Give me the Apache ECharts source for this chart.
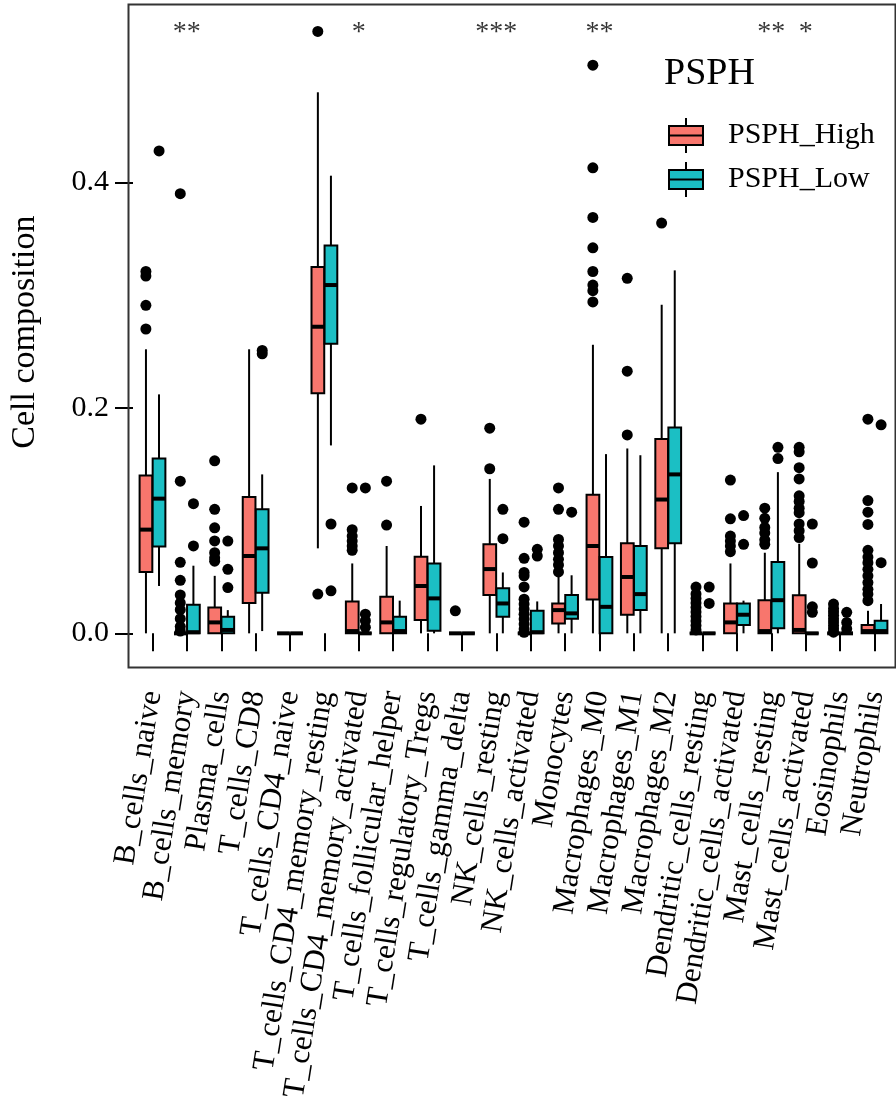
<!DOCTYPE html>
<html><head><meta charset="utf-8">
<script src="https://cdn.jsdelivr.net/npm/echarts@6/dist/echarts.min.js"></script>
<style>html,body{margin:0;padding:0;background:#fff}#c{width:896px;height:1103px}</style>
</head><body><div id="c"></div>
<script>
const categories = ['B_cells_naive','B_cells_memory','Plasma_cells','T_cells_CD8','T_cells_CD4_naive','T_cells_CD4_memory_resting','T_cells_CD4_memory_activated','T_cells_follicular_helper','T_cells_regulatory_Tregs','T_cells_gamma_delta','NK_cells_resting','NK_cells_activated','Monocytes','Macrophages_M0','Macrophages_M1','Macrophages_M2','Dendritic_cells_resting','Dendritic_cells_activated','Mast_cells_resting','Mast_cells_activated','Eosinophils','Neutrophils'];

// [lower whisker, Q1, median, Q3, upper whisker]
const highStats = [
  [0, 0.0545, 0.092, 0.140, 0.252],
  [0, 0, 0, 0, 0],
  [0, 0, 0.0097, 0.023, 0.051],
  [0, 0.027, 0.0686, 0.121, 0.252],
  [0, 0, 0, 0, 0],
  [0.0754, 0.213, 0.272, 0.325, 0.480],
  [0, 0, 0.002, 0.0283, 0.062],
  [0, 0, 0.0097, 0.0324, 0.0775],
  [0, 0.0118, 0.042, 0.068, 0.113],
  [0, 0, 0, 0, 0],
  [0, 0.034, 0.057, 0.079, 0.137],
  [0, 0, 0, 0, 0],
  [0, 0.0088, 0.0206, 0.0265, 0.052],
  [0, 0.030, 0.0775, 0.123, 0.256],
  [0, 0.0165, 0.050, 0.080, 0.164],
  [0, 0.0754, 0.1187, 0.1725, 0.2915],
  [0, 0, 0, 0, 0],
  [0, 0, 0.0097, 0.0265, 0.062],
  [0, 0, 0.002, 0.0294, 0.0715],
  [0, 0, 0.003, 0.0338, 0.0795],
  [0, 0, 0, 0, 0],
  [0, 0, 0.002, 0.0074, 0.020]
];
const lowStats = [
  [0.042, 0.077, 0.1195, 0.155, 0.212],
  [0, 0, 0.001, 0.0253, 0.060],
  [0, 0, 0.003, 0.0147, 0.0206],
  [0.002, 0.036, 0.0754, 0.110, 0.141],
  [0, 0, 0, 0, 0],
  [0.1667, 0.257, 0.309, 0.344, 0.406],
  [0, 0, 0, 0, 0],
  [0, 0, 0.002, 0.0147, 0.029],
  [0, 0.0024, 0.031, 0.062, 0.149],
  [0, 0, 0, 0, 0],
  [0, 0.0147, 0.0265, 0.040, 0.054],
  [0, 0, 0.001, 0.020, 0.0283],
  [0, 0.013, 0.0177, 0.034, 0.0515],
  [0, 0, 0.0235, 0.0677, 0.159],
  [0, 0.0206, 0.0348, 0.0775, 0.158],
  [0, 0.080, 0.141, 0.1826, 0.322],
  [0, 0, 0, 0, 0],
  [0, 0.0074, 0.0165, 0.0265, 0.029],
  [0, 0.0044, 0.0294, 0.0633, 0.143],
  [0, 0, 0, 0, 0],
  [0, 0, 0, 0, 0],
  [0, 0, 0.002, 0.0112, 0.026]
];
const highOutliers = [
  [0.321, 0.317, 0.291, 0.270],
  [0.390, 0.135, 0.063, 0.047, 0.034, 0.027, 0.021, 0.013, 0.006, 0.002],
  [0.153, 0.110, 0.0936, 0.082, 0.0716, 0.067, 0.064],
  [],
  [],
  [0.534, 0.0348],
  [0.129, 0.092, 0.0863, 0.0819, 0.0775, 0.0736],
  [0.135, 0.096],
  [0.190],
  [0.020],
  [0.182, 0.146],
  [0.0986, 0.0665, 0.054, 0.051, 0.0412, 0.0303, 0.026, 0.0215, 0.017, 0.0127, 0.0082, 0.0038, 0.0009],
  [0.129, 0.110, 0.0833, 0.0775, 0.0716, 0.0657, 0.0607, 0.0545],
  [0.504, 0.413, 0.369, 0.342, 0.321, 0.309, 0.304, 0.294],
  [0.315, 0.2326, 0.176],
  [0.364],
  [0.041, 0.035, 0.031, 0.027, 0.023, 0.019, 0.015, 0.011, 0.007, 0.003],
  [0.136, 0.1016, 0.0863, 0.0819, 0.0775, 0.0724],
  [0.111, 0.102, 0.094, 0.089, 0.083, 0.079],
  [0.165, 0.161, 0.147, 0.137, 0.122, 0.117, 0.111, 0.107, 0.097, 0.091, 0.085],
  [0.026, 0.022, 0.019, 0.016, 0.013, 0.010, 0.007, 0.004, 0.001],
  [0.190, 0.1178, 0.1075, 0.0966, 0.0736, 0.0677, 0.0627, 0.0568, 0.051, 0.045, 0.039, 0.0348, 0.029]
];
const lowOutliers = [
  [0.428],
  [0.115, 0.0775],
  [0.0819, 0.0568, 0.0406],
  [0.251, 0.248],
  [],
  [0.097, 0.0377],
  [0.129, 0.017, 0.0112, 0.0053],
  [],
  [],
  [],
  [0.110, 0.084],
  [0.0745, 0.0686],
  [0.1075],
  [],
  [],
  [],
  [0.041, 0.0265],
  [0.1045, 0.079],
  [0.165, 0.155],
  [0.097, 0.0624, 0.0235, 0.0186],
  [0.0186, 0.0097, 0.004],
  [0.185, 0.0627]
];
const sigCategories = ['B_cells_memory','T_cells_CD4_memory_activated','NK_cells_resting','Macrophages_M0','Mast_cells_resting','Mast_cells_activated'];
const sigLabels = ['**','*','***','**','**','*'];
const sigLevel = 0.533;
const yTicks = [0, 0.2, 0.4];

const FONT = "Liberation Serif";
const HIGH_COLOR = '#F8766D';
const LOW_COLOR = '#1BBFC4';
const DODGE = 0.19;   // fraction of band
const HALF_W = 0.185; // fraction of band

const GRID_LEFT = 128.3, GRID_RIGHT = 4.3, GRID_TOP = 2, GRID_BOTTOM = 438;

function boxRender(dir, color) {
  return function (params, api) {
    const i = api.value(0);
    const band = api.size([1, 0])[0];
    const cx = api.coord([i, 0])[0] + dir * DODGE * band;
    const hw = HALF_W * band;
    const yLo = api.coord([i, api.value(1)])[1];
    const yQ1 = api.coord([i, api.value(2)])[1];
    const yMed = api.coord([i, api.value(3)])[1];
    const yQ3 = api.coord([i, api.value(4)])[1];
    const yHi = api.coord([i, api.value(5)])[1];
    return {
      type: 'group',
      children: [
        {type: 'line', shape: {x1: cx, y1: yHi, x2: cx, y2: yQ3}, style: {stroke: '#000', lineWidth: 2}},
        {type: 'line', shape: {x1: cx, y1: yQ1, x2: cx, y2: yLo}, style: {stroke: '#000', lineWidth: 2}},
        {type: 'rect', shape: {x: cx - hw, y: yQ3, width: 2 * hw, height: yQ1 - yQ3},
          style: {fill: color, stroke: '#000', lineWidth: 2}},
        {type: 'line', shape: {x1: cx - hw, y1: yMed, x2: cx + hw, y2: yMed}, style: {stroke: '#000', lineWidth: 4}}
      ]
    };
  };
}

const boxData = stats => stats.map((s, i) => [i].concat(s));
const outData = outs => {
  const r = [];
  outs.forEach((vals, i) => vals.forEach(v => r.push([i, v])));
  return r;
};

const chart = echarts.init(document.getElementById('c'), null, {renderer: 'canvas'});
const bandPx = (896 - GRID_LEFT - GRID_RIGHT) / categories.length;
const iconPath = 'path://M17,0L17,8M0,8L34,8L34,27L0,27ZM0,17.5L34,17.5M17,27L17,35';

chart.setOption({
  backgroundColor: '#fff',
  animation: false,
  title: {
    text: 'PSPH', left: 664, top: 55, padding: 0,
    textStyle: {fontFamily: FONT, fontSize: 38, fontWeight: 'normal', color: '#000'}
  },
  legend: {
    data: [{name: 'PSPH_High', icon: iconPath}, {name: 'PSPH_Low', icon: iconPath}],
    orient: 'vertical', left: 668, top: 117, padding: 0,
    itemWidth: 34, itemHeight: 35, itemGap: 7,
    selectedMode: false,
    itemStyle: {borderColor: '#000', borderWidth: 2},
    textStyle: {fontFamily: FONT, fontSize: 30, color: '#000', padding: [0, 0, 0, 20]}
  },
  graphic: [{
    type: 'rect', left: 126, top: 2, silent: true, z: 10,
    shape: {width: 767, height: 663},
    style: {fill: 'none', stroke: '#333', lineWidth: 2}
  }],
  grid: {left: GRID_LEFT, right: GRID_RIGHT, top: GRID_TOP, bottom: GRID_BOTTOM, show: false},
  xAxis: {
    type: 'category', data: categories,
    axisLine: {show: false},
    axisTick: {show: true, alignWithLabel: true, length: 18, lineStyle: {color: '#000', width: 2}},
    axisLabel: {interval: 0, rotate: 81, fontFamily: FONT, fontStyle: 'normal', fontWeight: 'normal', fontSize: 31,
      color: '#000', margin: 29, padding: [40, 0, 0, 0]},
    splitLine: {show: false}
  },
  yAxis: {
    type: 'value', min: -0.0256, max: 0.5601, offset: 2.3,
    name: 'Cell composition', nameLocation: 'middle', nameGap: 91,
    nameTextStyle: {fontFamily: FONT, fontSize: 34, color: '#000'},
    axisLine: {show: false},
    splitLine: {show: false},
    axisTick: {show: true, length: 18, lineStyle: {color: '#000', width: 2}, customValues: yTicks},
    axisLabel: {fontFamily: FONT, fontSize: 30, color: '#000', margin: 24, customValues: yTicks,
      formatter: v => Number(v).toFixed(1)}
  },
  series: [
    {name: 'PSPH_High', type: 'custom', itemStyle: {color: HIGH_COLOR, borderColor: '#000', borderWidth: 2},
      renderItem: boxRender(-1, HIGH_COLOR), encode: {x: 0, y: [1, 2, 3, 4, 5]}, data: boxData(highStats), z: 2},
    {name: 'PSPH_Low', type: 'custom', itemStyle: {color: LOW_COLOR, borderColor: '#000', borderWidth: 2},
      renderItem: boxRender(1, LOW_COLOR), encode: {x: 0, y: [1, 2, 3, 4, 5]}, data: boxData(lowStats), z: 2},
    {name: 'High outliers', type: 'scatter', data: outData(highOutliers), symbolSize: 11,
      symbolOffset: [-DODGE * bandPx, 0], itemStyle: {color: '#000', opacity: 1}, z: 3},
    {name: 'Low outliers', type: 'scatter', data: outData(lowOutliers), symbolSize: 11,
      symbolOffset: [DODGE * bandPx, 0], itemStyle: {color: '#000', opacity: 1}, z: 3},
    {name: 'sig', type: 'scatter', symbolSize: 0, z: 4,
      data: sigCategories.map((c, k) => ({value: [categories.indexOf(c), sigLevel], name: sigLabels[k]})),
      label: {show: true, position: 'inside', formatter: p => p.name, fontFamily: FONT, fontSize: 28, color: '#000'}}
  ]
});
</script>
</body></html>
